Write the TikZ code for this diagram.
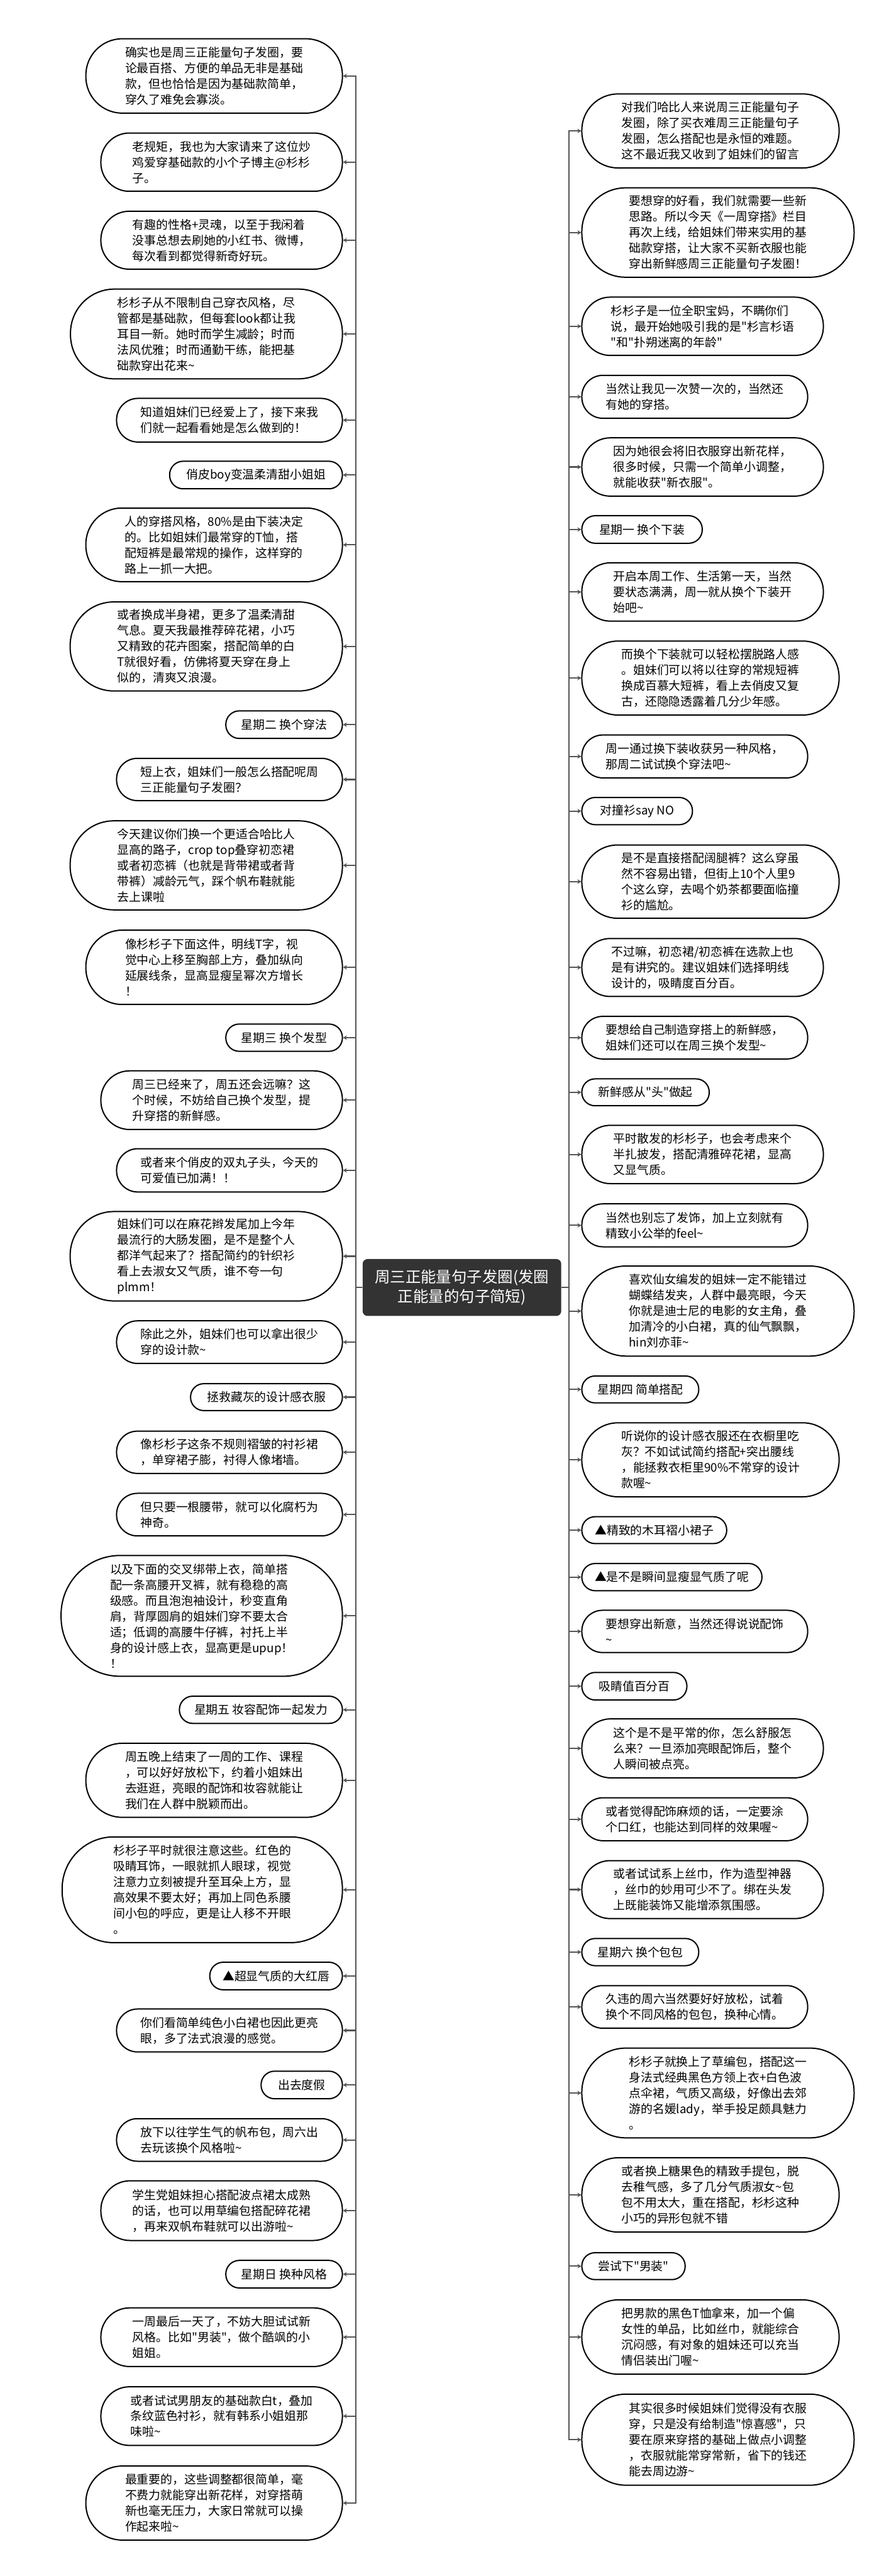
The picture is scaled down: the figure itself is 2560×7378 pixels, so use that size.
\documentclass[tikz,border=0pt]{standalone}
\usepackage{fontspec}
\usepackage{tikz}
\usetikzlibrary{arrows.meta}
\newfontfamily\cjkfont{Noto Sans CJK SC}
\definecolor{rootgray}{HTML}{333333}
\definecolor{linkgray}{HTML}{555555}

\begin{document}
\begin{tikzpicture}[x=0.25pt,y=-0.25pt,
	leaf/.style 2 args={draw=black,line width=0.9pt,fill=white,rectangle,inner sep=0pt,minimum width=#1,minimum height=#2,rounded corners=0.49*#2,align=left,font=\cjkfont\fontsize{8.5pt}{11.25pt}\selectfont},
	root/.style={fill=rootgray,rectangle,rounded corners=3.5pt,inner sep=0pt,minimum width=142.25pt,minimum height=40.75pt,align=center,text=white,font=\cjkfont\fontsize{11pt}{14pt}\selectfont},
	link/.style={draw=linkgray,line width=1pt,-{Stealth[length=2.75pt,width=3.25pt]}}]
					\useasboundingbox (0,0) rectangle (2560,7378);
					\fill[white] (0,0) rectangle (2560,7378);
					\node[root] (root) at (1323.5,3687.5) {周三正能量句子发圈(发圈\\正能量的句子简短)};
					\node[leaf={183.75pt}{53.25pt}] (l1) at (613.5,217.5) {确实也是周三正能量句子发圈，要\\论最百搭、方便的单品无非是基础\\款，但也恰恰是因为基础款简单，\\穿久了难免会寡淡。};
					\node[leaf={173pt}{41.75pt}] (l2) at (635,464.5) {老规矩，我也为大家请来了这位炒\\鸡爱穿基础款的小个子博主@杉杉\\子。};
					\node[leaf={173pt}{41.5pt}] (l3) at (635,688) {有趣的性格+灵魂，以至于我闲着\\没事总想去刷她的小红书、微博，\\每次看到都觉得新奇好玩。};
					\node[leaf={194.75pt}{64.25pt}] (l4) at (591.5,956.5) {杉杉子从不限制自己穿衣风格，尽\\管都是基础款，但每套look都让我\\耳目一新。她时而学生减龄；时而\\法风优雅；时而通勤干练，能把基\\础款穿出花来\textasciitilde};
					\node[leaf={161.75pt}{31.25pt}] (l5) at (657.5,1203.5) {知道姐妹们已经爱上了，接下来我\\们就一起看看她是怎么做到的！};
					\node[leaf={123.75pt}{19.75pt}] (l6) at (733.5,1360.5) {俏皮boy变温柔清甜小姐姐};
					\node[leaf={183.75pt}{52.75pt}] (l7) at (613.5,1560.5) {人的穿搭风格，80\%是由下装决定\\的。比如姐妹们最常穿的T恤，搭\\配短裤是最常规的操作，这样穿的\\路上一抓一大把。};
					\node[leaf={195pt}{63.75pt}] (l8) at (591,1851.5) {或者换成半身裙，更多了温柔清甜\\气息。夏天我最推荐碎花裙，小巧\\又精致的花卉图案，搭配简单的白\\T就很好看，仿佛将夏天穿在身上\\似的，清爽又浪漫。};
					\node[leaf={83.5pt}{19.75pt}] (l9) at (814,2075.5) {星期二 换个穿法};
					\node[leaf={161.75pt}{30.25pt}] (l10) at (657.5,2232.5) {短上衣，姐妹们一般怎么搭配呢周\\三正能量句子发圈？};
					\node[leaf={195pt}{63.75pt}] (l11) at (591,2478.5) {今天建议你们换一个更适合哈比人\\显高的路子，crop top叠穿初恋裙\\或者初恋裤（也就是背带裙或者背\\带裤）减龄元气，踩个帆布鞋就能\\去上课啦};
					\node[leaf={183.75pt}{53.25pt}] (l12) at (613.5,2770.5) {像杉杉子下面这件，明线T字，视\\觉中心上移至胸部上方，叠加纵向\\延展线条，显高显瘦呈幂次方增长\\！};
					\node[leaf={83.5pt}{19.5pt}] (l13) at (814,2972) {星期三 换个发型};
					\node[leaf={173pt}{42pt}] (l14) at (635,3151) {周三已经来了，周五还会远嘛？这\\个时候，不妨给自己换个发型，提\\升穿搭的新鲜感。};
					\node[leaf={161.75pt}{31pt}] (l15) at (657.5,3352) {或者来个俏皮的双丸子头，今天的\\可爱值已加满！！};
					\node[leaf={195pt}{64pt}] (l16) at (591,3598) {姐妹们可以在麻花辫发尾加上今年\\最流行的大肠发圈，是不是整个人\\都洋气起来了？搭配简约的针织衫\\看上去淑女又气质，谁不夸一句\\plmm！};
					\node[leaf={161.75pt}{30.5pt}] (l17) at (657.5,3844) {除此之外，姐妹们也可以拿出很少\\穿的设计款\textasciitilde};
					\node[leaf={108.75pt}{19.25pt}] (l18) at (763.5,4001.5) {拯救藏灰的设计感衣服};
					\node[leaf={161.75pt}{30.25pt}] (l19) at (657.5,4159.5) {像杉杉子这条不规则褶皱的衬衫裙\\，单穿裙子膨，衬得人像堵墙。};
					\node[leaf={161.75pt}{30.5pt}] (l20) at (657.5,4338) {但只要一根腰带，就可以化腐朽为\\神奇。};
					\node[leaf={201.5pt}{86.5pt}] (l21) at (578,4628) {以及下面的交叉绑带上衣，简单搭\\配一条高腰开叉裤，就有稳稳的高\\级感。而且泡泡袖设计，秒变直角\\肩，背厚圆肩的姐妹们穿不要太合\\适；低调的高腰牛仔裤，衬托上半\\身的设计感上衣，显高更是upup！\\！};
					\node[leaf={116.75pt}{19.5pt}] (l22) at (747.5,4897) {星期五 妆容配饰一起发力};
					\node[leaf={183.75pt}{53pt}] (l23) at (613.5,5099) {周五晚上结束了一周的工作、课程\\，可以好好放松下，约着小姐妹出\\去逛逛，亮眼的配饰和妆容就能让\\我们在人群中脱颖而出。};
					\node[leaf={200.75pt}{75.75pt}] (l24) at (579.5,5412.5) {杉杉子平时就很注意这些。红色的\\吸睛耳饰，一眼就抓人眼球，视觉\\注意力立刻被提升至耳朵上方，显\\高效果不要太好；再加上同色系腰\\间小包的呼应，更是让人移不开眼\\。};
					\node[leaf={95pt}{19.75pt}] (l25) at (791,5659.5) {▲超显气质的大红唇};
					\node[leaf={161.75pt}{30.75pt}] (l26) at (657.5,5815.5) {你们看简单纯色小白裙也因此更亮\\眼，多了法式浪漫的感觉。};
					\node[leaf={58.25pt}{19.75pt}] (l27) at (864.5,5971.5) {出去度假};
					\node[leaf={161.75pt}{30.5pt}] (l28) at (657.5,6129) {放下以往学生气的帆布包，周六出\\去玩该换个风格啦\textasciitilde};
					\node[leaf={173pt}{42.75pt}] (l29) at (635,6331.5) {学生党姐妹担心搭配波点裙太成熟\\的话，也可以用草编包搭配碎花裙\\，再来双帆布鞋就可以出游啦\textasciitilde};
					\node[leaf={83.5pt}{19.75pt}] (l30) at (814,6513.5) {星期日 换种风格};
					\node[leaf={173pt}{42pt}] (l31) at (635,6694) {一周最后一天了，不妨大胆试试新\\风格。比如"男装"，做个酷飒的小\\姐姐。};
					\node[leaf={173pt}{42pt}] (l32) at (635,6920) {或者试试男朋友的基础款白t，叠加\\条纹蓝色衬衫，就有韩系小姐姐那\\味啦\textasciitilde};
					\node[leaf={183.75pt}{53pt}] (l33) at (613.5,7169) {最重要的，这些调整都很简单，毫\\不费力就能穿出新花样，对穿搭萌\\新也毫无压力，大家日常就可以操\\作起来啦\textasciitilde};
					\node[leaf={184.25pt}{53pt}] (r1) at (2035.5,375) {对我们哈比人来说周三正能量句子\\发圈，除了买衣难周三正能量句子\\发圈，怎么搭配也是永恒的难题。\\这不最近我又收到了姐妹们的留言};
					\node[leaf={195pt}{64pt}] (r2) at (2057,666) {要想穿的好看，我们就需要一些新\\思路。所以今天《一周穿搭》栏目\\再次上线，给姐妹们带来实用的基\\础款穿搭，让大家不买新衣服也能\\穿出新鲜感周三正能量句子发圈！};
					\node[leaf={173pt}{41.75pt}] (r3) at (2013,934.5) {杉杉子是一位全职宝妈，不瞒你们\\说，最开始她吸引我的是"杉言杉语\\"和"扑朔迷离的年龄"};
					\node[leaf={161.75pt}{30.75pt}] (r4) at (1990.5,1136.5) {当然让我见一次赞一次的，当然还\\有她的穿搭。};
					\node[leaf={173pt}{41.75pt}] (r5) at (2013,1337.5) {因为她很会将旧衣服穿出新花样，\\很多时候，只需一个简单小调整，\\就能收获"新衣服"。};
					\node[leaf={86.25pt}{19.75pt}] (r6) at (1839.5,1516.5) {星期一 换个下装};
					\node[leaf={173pt}{41.75pt}] (r7) at (2013,1695.5) {开启本周工作、生活第一天，当然\\要状态满满，周一就从换个下装开\\始吧\textasciitilde};
					\node[leaf={184.25pt}{53pt}] (r8) at (2035.5,1942) {而换个下装就可以轻松摆脱路人感\\。姐妹们可以将以往穿的常规短裤\\换成百慕大短裤，看上去俏皮又复\\古，还隐隐透露着几分少年感。};
					\node[leaf={161.75pt}{30.75pt}] (r9) at (1990.5,2166.5) {周一通过换下装收获另一种风格，\\那周二试试换个穿法吧\textasciitilde};
					\node[leaf={79.25pt}{19.5pt}] (r10) at (1825.5,2323) {对撞衫say NO};
					\node[leaf={184.25pt}{52.5pt}] (r11) at (2035.5,2525) {是不是直接搭配阔腿裤？这么穿虽\\然不容易出错，但街上10个人里9\\个这么穿，去喝个奶茶都要面临撞\\衫的尴尬。};
					\node[leaf={173pt}{41.5pt}] (r12) at (2013,2771) {不过嘛，初恋裙/初恋裤在选款上也\\是有讲究的。建议姐妹们选择明线\\设计的，吸睛度百分百。};
					\node[leaf={161.75pt}{30.5pt}] (r13) at (1990.5,2972) {要想给自己制造穿搭上的新鲜感，\\姐妹们还可以在周三换个发型\textasciitilde};
					\node[leaf={91.25pt}{19.25pt}] (r14) at (1849.5,3128.5) {新鲜感从"头"做起};
					\node[leaf={173pt}{41.75pt}] (r15) at (2013,3306.5) {平时散发的杉杉子，也会考虑来个\\半扎披发，搭配清雅碎花裙，显高\\又显气质。};
					\node[leaf={161.75pt}{30.75pt}] (r16) at (1990.5,3509.5) {当然也别忘了发饰，加上立刻就有\\精致小公举的feel\textasciitilde};
					\node[leaf={195pt}{64.5pt}] (r17) at (2057,3755) {喜欢仙女编发的姐妹一定不能错过\\蝴蝶结发夹，人群中最亮眼，今天\\你就是迪士尼的电影的女主角，叠\\加清冷的小白裙，真的仙气飘飘，\\hin刘亦菲\textasciitilde};
					\node[leaf={83.75pt}{19.25pt}] (r18) at (1834.5,3979.5) {星期四 简单搭配};
					\node[leaf={184.25pt}{53pt}] (r19) at (2035.5,4181) {听说你的设计感衣服还在衣橱里吃\\灰？不如试试简约搭配+突出腰线\\，能拯救衣柜里90\%不常穿的设计\\款喔\textasciitilde};
					\node[leaf={103.75pt}{19.25pt}] (r20) at (1874.5,4382.5) {▲精致的木耳褶小裙子};
					\node[leaf={129pt}{19.5pt}] (r21) at (1925,4517) {▲是不是瞬间显瘦显气质了呢};
					\node[leaf={161.75pt}{30.25pt}] (r22) at (1990.5,4672.5) {要想穿出新意，当然还得说说配饰\\\textasciitilde};
					\node[leaf={75.25pt}{19.75pt}] (r23) at (1817.5,4829.5) {吸睛值百分百};
					\node[leaf={173pt}{42.25pt}] (r24) at (2013,5007.5) {这个是不是平常的你，怎么舒服怎\\么来？一旦添加亮眼配饰后，整个\\人瞬间被点亮。};
					\node[leaf={161.75pt}{30.75pt}] (r25) at (1990.5,5210.5) {或者觉得配饰麻烦的话，一定要涂\\个口红，也能达到同样的效果喔\textasciitilde};
					\node[leaf={173pt}{41.5pt}] (r26) at (2013,5412) {或者试试系上丝巾，作为造型神器\\，丝巾的妙用可少不了。绑在头发\\上既能装饰又能增添氛围感。};
					\node[leaf={83.75pt}{19.5pt}] (r27) at (1834.5,5591) {星期六 换个包包};
					\node[leaf={161.75pt}{30.5pt}] (r28) at (1990.5,5748) {久违的周六当然要好好放松，试着\\换个不同风格的包包，换种心情。};
					\node[leaf={195pt}{64.25pt}] (r29) at (2057,5994.5) {杉杉子就换上了草编包，搭配这一\\身法式经典黑色方领上衣+白色波\\点伞裙，气质又高级，好像出去郊\\游的名媛lady，举手投足颇具魅力\\。};
					\node[leaf={184.25pt}{53.25pt}] (r30) at (2035.5,6286.5) {或者换上糖果色的精致手提包，脱\\去稚气感，多了几分气质淑女\textasciitilde{}包\\包不用太大，重在搭配，杉杉这种\\小巧的异形包就不错};
					\node[leaf={74pt}{19.25pt}] (r31) at (1815,6490.5) {尝试下"男装"};
					\node[leaf={184.25pt}{53.25pt}] (r32) at (2035.5,6693.5) {把男款的黑色T恤拿来，加一个偏\\女性的单品，比如丝巾，就能综合\\沉闷感，有对象的姐妹还可以充当\\情侣装出门喔\textasciitilde};
					\node[leaf={195pt}{65.25pt}] (r33) at (2057,6987.5) {其实很多时候姐妹们觉得没有衣服\\穿，只是没有给制造"惊喜感"，只\\要在原来穿搭的基础上做点小调整\\，衣服就能常穿常新，省下的钱还\\能去周边游\textasciitilde};
					\draw[link] (root.west) -- ++(-19,0) |- (l1.east);
					\draw[link] (root.west) -- ++(-19,0) |- (l2.east);
					\draw[link] (root.west) -- ++(-19,0) |- (l3.east);
					\draw[link] (root.west) -- ++(-19,0) |- (l4.east);
					\draw[link] (root.west) -- ++(-19,0) |- (l5.east);
					\draw[link] (root.west) -- ++(-19,0) |- (l6.east);
					\draw[link] (root.west) -- ++(-19,0) |- (l7.east);
					\draw[link] (root.west) -- ++(-19,0) |- (l8.east);
					\draw[link] (root.west) -- ++(-19,0) |- (l9.east);
					\draw[link] (root.west) -- ++(-19,0) |- (l10.east);
					\draw[link] (root.west) -- ++(-19,0) |- (l11.east);
					\draw[link] (root.west) -- ++(-19,0) |- (l12.east);
					\draw[link] (root.west) -- ++(-19,0) |- (l13.east);
					\draw[link] (root.west) -- ++(-19,0) |- (l14.east);
					\draw[link] (root.west) -- ++(-19,0) |- (l15.east);
					\draw[link] (root.west) -- ++(-19,0) |- (l16.east);
					\draw[link] (root.west) -- ++(-19,0) |- (l17.east);
					\draw[link] (root.west) -- ++(-19,0) |- (l18.east);
					\draw[link] (root.west) -- ++(-19,0) |- (l19.east);
					\draw[link] (root.west) -- ++(-19,0) |- (l20.east);
					\draw[link] (root.west) -- ++(-19,0) |- (l21.east);
					\draw[link] (root.west) -- ++(-19,0) |- (l22.east);
					\draw[link] (root.west) -- ++(-19,0) |- (l23.east);
					\draw[link] (root.west) -- ++(-19,0) |- (l24.east);
					\draw[link] (root.west) -- ++(-19,0) |- (l25.east);
					\draw[link] (root.west) -- ++(-19,0) |- (l26.east);
					\draw[link] (root.west) -- ++(-19,0) |- (l27.east);
					\draw[link] (root.west) -- ++(-19,0) |- (l28.east);
					\draw[link] (root.west) -- ++(-19,0) |- (l29.east);
					\draw[link] (root.west) -- ++(-19,0) |- (l30.east);
					\draw[link] (root.west) -- ++(-19,0) |- (l31.east);
					\draw[link] (root.west) -- ++(-19,0) |- (l32.east);
					\draw[link] (root.west) -- ++(-19,0) |- (l33.east);
					\draw[link] (root.east) -- ++(21,0) |- (r1.west);
					\draw[link] (root.east) -- ++(21,0) |- (r2.west);
					\draw[link] (root.east) -- ++(21,0) |- (r3.west);
					\draw[link] (root.east) -- ++(21,0) |- (r4.west);
					\draw[link] (root.east) -- ++(21,0) |- (r5.west);
					\draw[link] (root.east) -- ++(21,0) |- (r6.west);
					\draw[link] (root.east) -- ++(21,0) |- (r7.west);
					\draw[link] (root.east) -- ++(21,0) |- (r8.west);
					\draw[link] (root.east) -- ++(21,0) |- (r9.west);
					\draw[link] (root.east) -- ++(21,0) |- (r10.west);
					\draw[link] (root.east) -- ++(21,0) |- (r11.west);
					\draw[link] (root.east) -- ++(21,0) |- (r12.west);
					\draw[link] (root.east) -- ++(21,0) |- (r13.west);
					\draw[link] (root.east) -- ++(21,0) |- (r14.west);
					\draw[link] (root.east) -- ++(21,0) |- (r15.west);
					\draw[link] (root.east) -- ++(21,0) |- (r16.west);
					\draw[link] (root.east) -- ++(21,0) |- (r17.west);
					\draw[link] (root.east) -- ++(21,0) |- (r18.west);
					\draw[link] (root.east) -- ++(21,0) |- (r19.west);
					\draw[link] (root.east) -- ++(21,0) |- (r20.west);
					\draw[link] (root.east) -- ++(21,0) |- (r21.west);
					\draw[link] (root.east) -- ++(21,0) |- (r22.west);
					\draw[link] (root.east) -- ++(21,0) |- (r23.west);
					\draw[link] (root.east) -- ++(21,0) |- (r24.west);
					\draw[link] (root.east) -- ++(21,0) |- (r25.west);
					\draw[link] (root.east) -- ++(21,0) |- (r26.west);
					\draw[link] (root.east) -- ++(21,0) |- (r27.west);
					\draw[link] (root.east) -- ++(21,0) |- (r28.west);
					\draw[link] (root.east) -- ++(21,0) |- (r29.west);
					\draw[link] (root.east) -- ++(21,0) |- (r30.west);
					\draw[link] (root.east) -- ++(21,0) |- (r31.west);
					\draw[link] (root.east) -- ++(21,0) |- (r32.west);
					\draw[link] (root.east) -- ++(21,0) |- (r33.west);
				\end{tikzpicture}
\end{document}
